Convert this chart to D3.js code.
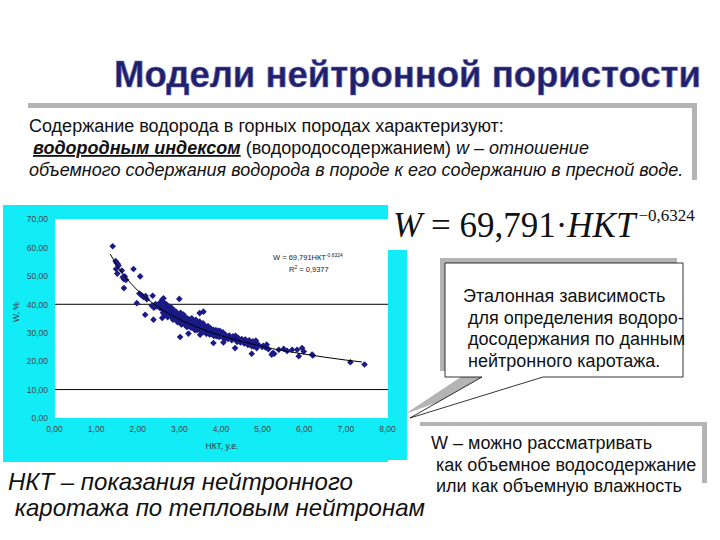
<!DOCTYPE html>
<html><head><meta charset="utf-8">
<script src="https://cdn.jsdelivr.net/npm/d3@7"></script>
<style>body{margin:0;background:#fff}svg{display:block}</style>
</head><body>
<script>
// ---- data ----
const hkt = [1.41,1.48,1.50,1.53,1.55,1.49,1.52,1.63,1.65,1.68,1.70,1.73,1.68,1.91,2.07,1.99,2.05,2.10,2.15,2.20,2.23,2.19,2.37,2.39,2.35,2.40,2.44,2.47,2.55,2.60,2.63,2.58,2.60,2.66,3.01,3.03,3.23,3.50,3.59,3.51,3.83,4.07,4.35,4.75,5.11,5.00,5.23,5.26,5.29,5.52,5.72,5.84,5.88,5.96,6.00,6.20,6.22,7.12,7.46,
2.52,2.55,2.58,2.61,2.63,2.65,2.67,2.69,2.71,2.72,2.74,2.75,2.77,2.79,2.80,2.82,2.84,2.85,2.87,2.88,2.90,2.91,2.93,2.95,2.96,2.98,3.00,3.02,3.03,3.05,3.07,3.08,3.10,3.12,3.13,3.15,3.17,3.18,3.20,3.22,3.24,3.25,3.27,3.29,3.30,3.32,3.34,3.36,3.38,3.40,3.42,3.44,3.45,3.47,3.49,3.51,3.53,3.55,3.57,3.59,3.61,3.63,3.65,3.67,3.69,3.71,3.73,3.75,3.77,3.79,3.81,3.83,3.86,3.88,3.90,3.92,3.95,3.97,4.00,4.03,4.06,4.09,4.12,4.15,4.18,4.21,4.24,4.27,4.30,4.33,4.36,4.39,4.42,4.45,4.48,4.51,4.54,4.57,4.60,4.63,4.66,4.69,4.72,4.75,4.78,4.81,4.84,4.87,4.90,5.03,5.08,5.15,5.40,5.60,
2.62,2.68,2.70,2.73,2.78,2.83,2.86,2.89,2.94,2.97,3.04,3.06,3.11,3.14,3.19,3.21,3.26,3.31,3.35,3.39,3.41,3.46,3.50,3.54,3.58,3.62,3.66,3.70,3.74,3.78,3.84,3.89,3.94,3.99,4.05,4.11,4.20,4.40,4.58,4.70,4.80,4.85];
const wPct = [60.4,55.2,54.6,54.2,53.6,52.4,50.8,51.9,49.5,48.8,49.8,48.6,45.7,52.4,49.8,40.4,43.8,43.2,42.6,42.9,41.8,36.3,43.0,34.6,39.5,38.8,40.1,39.2,40.5,41.6,42.1,39.0,35.2,36.4,41.9,28.5,29.7,36.9,37.4,29.3,26.4,26.6,24.6,22.6,25.8,25.0,22.3,22.9,22.6,24.3,24.0,24.0,21.7,24.6,23.4,22.3,22.0,19.6,18.8,
40.2,38.6,39.8,38.1,40.7,37.5,39.0,36.9,38.4,37.2,36.3,38.9,37.7,36.0,38.2,35.6,37.1,36.4,38.0,35.2,36.8,34.9,37.4,35.8,34.3,36.5,35.1,33.8,36.2,34.6,35.5,33.3,34.9,33.9,35.8,32.7,34.3,33.5,35.0,32.3,33.9,34.6,32.9,31.8,33.6,32.4,34.1,31.5,33.0,32.2,33.7,31.0,32.6,31.9,33.2,30.8,32.0,31.3,32.8,30.4,31.7,30.9,32.1,30.2,31.4,29.8,30.9,31.6,29.5,30.6,29.9,31.0,29.2,30.3,28.8,29.9,30.7,28.5,29.6,28.9,30.1,28.2,29.3,28.6,27.8,29.0,28.3,27.4,28.7,27.9,28.9,27.1,28.2,27.5,26.6,27.8,27.0,26.2,27.6,26.8,25.7,27.3,26.5,25.3,27.0,26.1,25.5,24.6,25.9,25.4,24.8,24.2,24.0,23.6,
37.0,38.2,40.0,35.5,39.1,38.7,34.6,37.6,36.1,33.7,37.0,32.9,36.4,34.1,32.0,34.9,33.0,35.1,32.8,30.9,34.5,32.1,33.9,30.5,33.3,31.2,29.6,32.3,29.4,31.3,28.9,30.9,28.9,30.6,28.4,27.9,28.6,26.8,27.4,25.9,25.2,27.2];
// power trendline points (W = 69,791·HKT^-0,6324)
const trendX = [1.35,1.5,1.75,2,2.5,3,3.5,4,4.5,5,5.5,6,6.5,7,7.4];
const trendY = [57.7,54.0,49.0,45.0,39.1,34.8,31.6,29.0,27.0,25.2,23.7,22.5,21.4,20.4,19.7];
const xTicks = [0,1,2,3,4,5,6,7,8];
const yTicks = [0,10,20,30,40,50,60,70];
const gridY = [40,10];

const svg = d3.select("body").append("svg").attr("width",720).attr("height",540);
svg.append("rect").attr("width",720).attr("height",540).attr("fill","#fff");

// title
svg.append("text").attr("x",114).attr("y",87)
  .attr("font-family","Liberation Sans, Arial").attr("font-weight","bold").attr("font-size",36.5)
  .attr("fill","#1f1f6b").attr("stroke","#6a6ab0").attr("stroke-width",0.6)
  .text("Модели нейтронной пористости");

// text box with shadow
svg.append("rect").attr("x",28).attr("y",103).attr("width",669).attr("height",77).attr("fill","#b4b4b4");
svg.append("rect").attr("x",23).attr("y",108).attr("width",669).attr("height",77).attr("fill","#fff");
const tf = "Liberation Sans, Arial";
svg.append("text").attr("x",29).attr("y",132).attr("font-family",tf).attr("font-size",18).attr("fill","#111")
  .text("Содержание водорода в горных породах характеризуют:");
const l2 = svg.append("text").attr("x",33).attr("y",154).attr("font-family",tf).attr("font-size",18).attr("fill","#111");
l2.append("tspan").attr("font-weight","bold").attr("font-style","italic").attr("text-decoration","underline").text("водородным индексом");
l2.append("tspan").text(" (водородосодержанием) ");
l2.append("tspan").attr("font-style","italic").text("w – отношение");
svg.append("text").attr("x",29).attr("y",176).attr("font-family",tf).attr("font-size",18).attr("font-style","italic").attr("fill","#111")
  .text("объемного содержания водорода в породе к его содержанию в пресной воде.");

// cyan chart panel
svg.append("rect").attr("x",3).attr("y",205).attr("width",404).attr("height",257).attr("fill","#12ecf6");
svg.append("rect").attr("x",388).attr("y",198).attr("width",332).attr("height",52).attr("fill","#fff");
svg.append("rect").attr("x",388).attr("y",460).attr("width",30).attr("height",10).attr("fill","#fff");

const m = {l:55, t:219, r:388, b:418};
const x = d3.scaleLinear().domain([0,8]).range([m.l-1, 387]);
const y = d3.scaleLinear().domain([0,70]).range([m.b, m.t]);
svg.append("rect").attr("x",m.l).attr("y",m.t).attr("width",m.r-m.l).attr("height",m.b-m.t).attr("fill","#fff");

const g = svg.append("g");
g.selectAll(".grid").data(gridY).join("line")
  .attr("x1",m.l).attr("x2",m.r).attr("y1",d=>y(d)).attr("y2",d=>y(d)).attr("stroke","#000").attr("stroke-width",1);

const fmt = d=>d.toFixed(2).replace(".",",");
const yAxis = d3.axisLeft(y).tickValues(yTicks).tickFormat(fmt).tickSize(0).tickPadding(6);
const ya = svg.append("g").attr("transform",`translate(${m.l-1},0)`).call(yAxis);
const xAxis = d3.axisBottom(x).tickValues(xTicks).tickFormat(fmt).tickSize(0).tickPadding(8);
const xa = svg.append("g").attr("transform",`translate(0,${m.b})`).call(xAxis);
[ya,xa].forEach(a=>{a.select(".domain").remove();
  a.selectAll("text").attr("font-family",tf).attr("font-size",8.5).attr("fill","#444");});

svg.append("text").attr("x",222).attr("y",449).attr("text-anchor","middle").attr("font-family",tf).attr("font-size",8.5).attr("fill","#333").text("НКТ, у.е.");
svg.append("text").attr("transform","translate(19,312) rotate(-90)").attr("text-anchor","middle").attr("font-family",tf).attr("font-size",8.5).attr("fill","#333").text("W, %");

// points
const pts = hkt.map((v,i)=>[v,wPct[i]]);
g.selectAll(".pt").data(pts).join("path")
  .attr("d",d3.symbol().type(d3.symbolDiamond2).size(28))
  .attr("transform",d=>`translate(${x(d[0])},${y(d[1])})`)
  .attr("fill","#1b1b86");

// trendline
const line = d3.line().x(d=>x(d[0])).y(d=>y(d[1])).curve(d3.curveMonotoneX);
g.append("path").datum(trendX.map((v,i)=>[v,trendY[i]])).attr("d",line)
  .attr("fill","none").attr("stroke","#000").attr("stroke-width",1);

// equation on chart
const eq = svg.append("text").attr("x",273).attr("y",260).attr("font-family",tf).attr("font-size",7.5).attr("fill","#222");
eq.append("tspan").text("W = 69,791НКТ");
eq.append("tspan").attr("dy",-3).attr("font-size",5).text("-0,6324");
const r2 = svg.append("text").attr("x",289).attr("y",272).attr("font-family",tf).attr("font-size",7.5).attr("fill","#222");
r2.append("tspan").text("R");
r2.append("tspan").attr("dy",-3).attr("font-size",5).text("2");
r2.append("tspan").attr("dy",3).text(" = 0,9377");

// big formula
const sf = "Liberation Serif, Times New Roman";
const f = svg.append("text").attr("x",393).attr("y",237).attr("font-family",sf).attr("font-size",35).attr("fill","#111");
f.append("tspan").attr("font-style","italic").text("W");
f.append("tspan").text(" = 69,791·");
f.append("tspan").attr("font-style","italic").text("HKT");
f.append("tspan").attr("dx",3).attr("dy",-16).attr("font-size",17).text("−0,6324");

// callout 1
svg.append("polygon").attr("points","440,258 677,258 677,371 525,371 405,414 470,371 440,371").attr("fill","#b4b4b4");
svg.append("polygon").attr("points","445,263 683,263 683,377 543,377 410,418 482,377 445,377")
  .attr("fill","#fff").attr("stroke","#000").attr("stroke-width",0.8);
const c1 = ["Эталонная зависимость"," для определения водоро-"," досодержания по данным"," нейтронного каротажа."];
svg.append("g").selectAll("text").data(c1).join("text")
  .attr("x",463).attr("y",(d,i)=>302+i*21.7).attr("font-family",tf).attr("font-size",18).attr("fill","#111")
  .style("white-space","pre").text(d=>d);

// box 2
svg.append("rect").attr("x",420).attr("y",422).attr("width",287).attr("height",61).attr("fill","#b4b4b4");
svg.append("rect").attr("x",415).attr("y",426).attr("width",287).attr("height",72).attr("fill","#fff");
const c2 = ["W – можно рассматривать"," как объемное водосодержание"," или как объемную влажность"];
svg.append("g").selectAll("text").data(c2).join("text")
  .attr("x",431).attr("y",(d,i)=>449+i*21.5).attr("font-family",tf).attr("font-size",18).attr("fill","#111")
  .style("white-space","pre").text(d=>d);

// bottom text
const c3 = ["НКТ – показания нейтронного"," каротажа по тепловым нейтронам"];
svg.append("g").selectAll("text").data(c3).join("text")
  .attr("x",8).attr("y",(d,i)=>490+i*26).attr("font-family",tf).attr("font-size",24).attr("font-style","italic").attr("fill","#111")
  .style("white-space","pre").text(d=>d);
</script>
</body></html>
